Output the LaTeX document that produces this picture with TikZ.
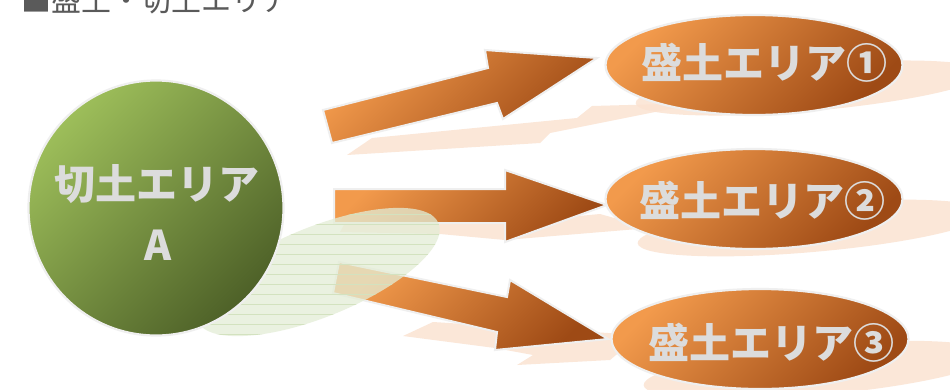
\documentclass[tikz,border=0pt]{standalone}
\usepackage{fontspec}
\setmainfont{Noto Sans CJK JP}
\usetikzlibrary{shapes.geometric}
\definecolor{orL}{HTML}{F29A4C}
\definecolor{orD}{HTML}{9E4A15}
\definecolor{grL}{HTML}{9DBE5A}
\definecolor{grD}{HTML}{4E6128}
\definecolor{peach}{HTML}{FBE3D2}
\definecolor{rim}{HTML}{EFEFEF}
\definecolor{txt}{HTML}{DCDCDC}
\definecolor{ttl}{HTML}{5A5A5A}
\definecolor{grsh}{HTML}{E3EDD6}
\definecolor{grln}{HTML}{D3E2BF}
\tikzset{
  orshade/.style={top color=orL, bottom color=orD, shading angle=45},
  areaell/.style={ellipse, orshade, draw=rim, line width=2.2pt, minimum width=297pt, minimum height=100pt, inner sep=0pt},
  cutcirc/.style={circle, top color=grL, bottom color=grD, shading angle=45, draw=rim, line width=2.2pt, minimum size=255pt, inner sep=0pt},
  blockarrow/.style={orshade, draw=rim, line width=2pt, line join=miter},
  shadowfill/.style={fill=peach, opacity=0.85},
  lbl/.style={text=txt, font=\bfseries\fontsize{41}{44}\selectfont, inner sep=0pt},
  ttlstyle/.style={text=ttl, font=\fontsize{30}{30}\selectfont, inner sep=0pt}
}
\begin{document}
\begin{tikzpicture}[x=1pt,y=-1pt]
\useasboundingbox (0,0) rectangle (950,389);
\fill[white] (0,0) rectangle (950,389);
% title
\node[ttlstyle, anchor=base west] (title) at (21,11.5) {■盛土・切土エリア};
% shadows of ellipses
\fill[shadowfill, rotate around={5:(810,88)}] (810,88) ellipse [x radius=175, y radius=23];
\fill[shadowfill, rotate around={5:(812,228)}] (812,228) ellipse [x radius=175, y radius=24];
\fill[shadowfill, rotate around={5:(818,370)}] (818,370) ellipse [x radius=175, y radius=25];
% shadows of arrows
\fill[shadowfill] (347,155) -- (372,138) -- (577,118) -- (592,106) -- (700,103) -- (550,133) -- (540,143) -- cycle;
\fill[shadowfill] (340,232) -- (345,223) -- (505,223) -- (600,214) -- (650,228) -- (505,240) -- (440,234) -- cycle;
\fill[shadowfill] (403,336) -- (433,322) -- (560,330) -- (640,335) -- (610,360) -- (517,365) -- (533,355) -- (495,348) -- cycle;
% block arrows
\shade[blockarrow] (323,110) -- (488,68) -- (485,50) -- (597,58) -- (503,119) -- (497,103) -- (332,143) -- cycle;
\shade[blockarrow] (334,189) -- (505,189) -- (505,170) -- (607,205) -- (505,242) -- (505,223) -- (334,223) -- cycle;
\shade[blockarrow] (339,262) -- (507,297) -- (510,280) -- (608,339) -- (495,350) -- (497,332) -- (333,293) -- cycle;
% ellipses
\node[areaell] (e1) at (754,65) {};
\node[areaell] (e2) at (754,199) {};
\node[areaell] (e3) at (760,339) {};
\node[lbl] (t1) at (764,63) {盛土エリア①};
\node[lbl] (t2) at (762,201) {盛土エリア②};
\node[lbl] (t3) at (771,343) {盛土エリア③};
% green reflection
\begin{scope}
\clip[rotate around={22:(318,272)}] (318,272) ellipse [x radius=130, y radius=45];
\fill[grsh, opacity=0.75] (150,190) rectangle (460,350);
\foreach \yy in {204,214,...,344} \draw[grln, line width=0.7pt] (150,\yy) -- (460,\yy);
\end{scope}
% circle
\node[cutcirc] (cA) at (156,208) {};
\node[lbl] (tA1) at (157,184) {切土エリア};
\node[lbl] (tA2) at (158,245) {A};
\end{tikzpicture}
\end{document}
